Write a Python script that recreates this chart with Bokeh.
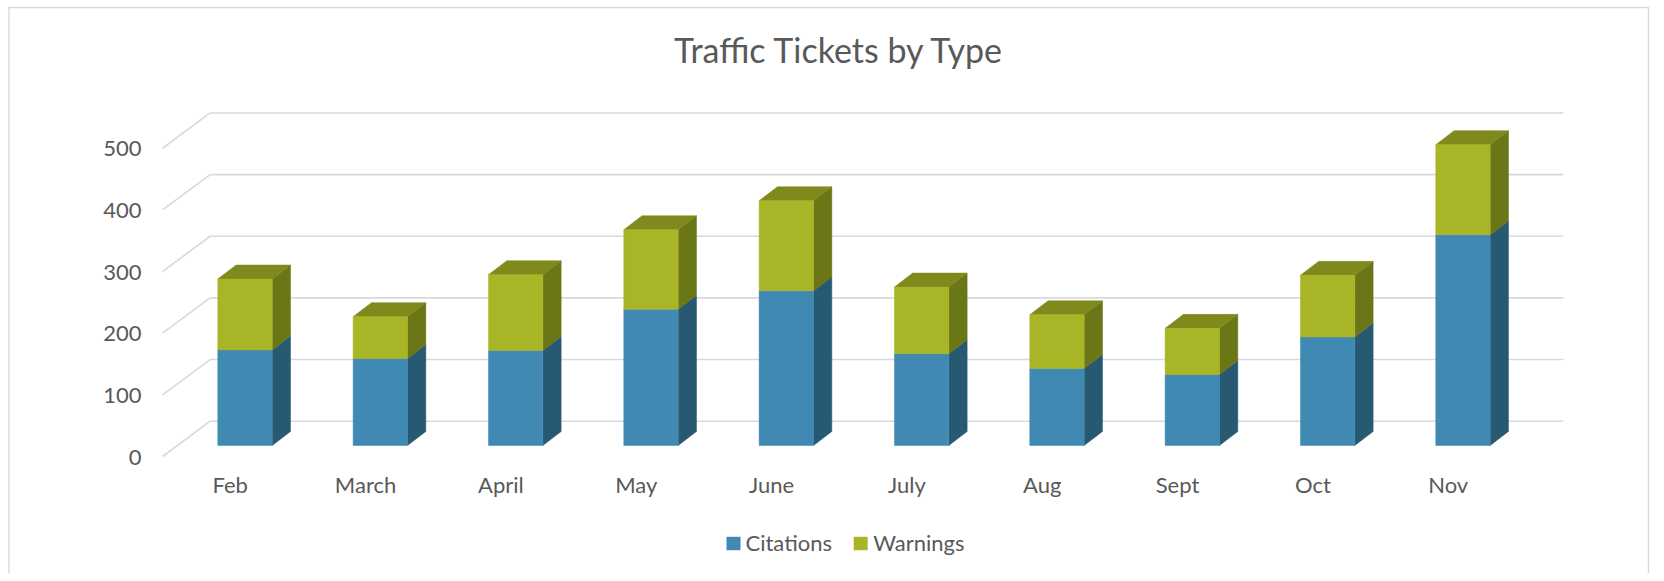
from bokeh.plotting import figure
from bokeh.models import Range1d
from bokeh.core.properties import value
from bokeh.embed import file_html
from bokeh.resources import INLINE

# ---------------- data ----------------
months = ["Feb", "March", "April", "May", "June", "July", "Aug", "Sept", "Oct", "Nov"]
citations = [155, 141, 154, 221, 251, 149, 125, 115, 176, 342]
warnings = [115, 68, 123, 129, 146, 108, 87, 75, 100, 146]
y_ticks = [0, 100, 200, 300, 400, 500]
series_names = ["Citations", "Warnings"]
title_text = "Traffic Tickets by Type"

# ---------------- layout / style ----------------
W, H = 1656, 573
PX_Y = 0.6165        # pixels per ticket
PX_X = 135.33        # pixels per category
BASE_CY = 445.0      # canvas y of value 0 (bar front plane)
CAT0_CX = 244.5      # canvas x of first category centre

def xd(cx):
    return (cx - CAT0_CX) / PX_X

def yd(cy):
    return (BASE_CY - cy) / PX_Y

TEXT = "#595959"
GRID = "#D9D9D9"
FONT = value("Lato")
colors = {
    "Citations": dict(front="#4089B2", side="#285973", top="#33739A"),
    "Warnings": dict(front="#A8B526", side="#6B7617", top="#7F891C"),
}

bar_w = 54.4 / PX_X
ddx, ddy = 18.3 / PX_X, 14.0 / PX_Y          # bar depth
fdx, fdy = -14.8 / PX_X, -11.0 / PX_Y        # floor front edge vs bar plane
bdx, bdy = 32.8 / PX_X, 24.3 / PX_Y          # back wall vs bar plane

p = figure(width=W, height=H,
           x_range=Range1d(xd(0), xd(W)), y_range=Range1d(yd(H), yd(0)),
           output_backend="svg", toolbar_location=None,
           x_axis_location=None, y_axis_location=None, min_border=0)
p.grid.visible = False
p.outline_line_color = None
p.background_fill_color = "white"
p.border_fill_color = "white"

n = len(months)
xs_idx = list(range(n))

# ---------------- gridlines (3D walls) ----------------
gx, gy = [], []
for v in y_ticks:
    gx.append([-0.5 + fdx, -0.5 + bdx, n - 0.5 + bdx])
    gy.append([v + fdy, v + bdy, v + bdy])
p.multi_line(gx, gy, line_color=GRID, line_width=1.6)

# tick labels
p.text(x=[-0.5 + fdx - 21 / PX_X] * len(y_ticks),
       y=[v + fdy - 0.5 / PX_Y for v in y_ticks],
       text=[str(v) for v in y_ticks], text_font=FONT, text_font_size="22px",
       text_color=TEXT, text_align="right", text_baseline="middle")

# ---------------- 3D stacked bars ----------------
bottoms = [0] * n
segments = []
for name, vals in zip(series_names, [citations, warnings]):
    tops = [b + v for b, v in zip(bottoms, vals)]
    segments.append((name, list(bottoms), tops))
    bottoms = tops

for k, (name, bots, tops) in enumerate(segments):
    c = colors[name]
    side_x, side_y = [], []
    for i in xs_idx:
        r = i + bar_w / 2
        side_x.append([r, r + ddx, r + ddx, r])
        side_y.append([bots[i], bots[i] + ddy, tops[i] + ddy, tops[i]])
    p.patches(side_x, side_y, fill_color=c["side"], line_color=c["side"], line_width=0.5)
    if k == len(segments) - 1:
        top_x, top_y = [], []
        for i in xs_idx:
            l, r = i - bar_w / 2, i + bar_w / 2
            top_x.append([l, l + ddx, r + ddx, r])
            top_y.append([tops[i], tops[i] + ddy, tops[i] + ddy, tops[i]])
        p.patches(top_x, top_y, fill_color=c["top"], line_color=c["top"], line_width=0.5)
    p.vbar(x=xs_idx, width=bar_w, bottom=bots, top=tops,
           fill_color=c["front"], line_color=c["front"], line_width=0.5)

# category labels (on floor front edge)
p.text(x=[i + fdx for i in xs_idx], y=[yd(484)] * n, text=months,
       text_font=FONT, text_font_size="22px", text_color=TEXT,
       text_align="center", text_baseline="middle")

# ---------------- title ----------------
p.text(x=[xd(839)], y=[yd(49)], text=[title_text], text_font=FONT,
       text_font_size="34px", text_color=TEXT, text_align="center",
       text_baseline="middle")

# ---------------- legend ----------------
leg_sq_cx = [733.0, 860.2]
leg_txt_cx = [745.0, 872.7]
p.rect(x=[xd(c) for c in leg_sq_cx], y=[yd(543)] * 2, width=14, height=13.4,
       width_units="screen", height_units="screen",
       fill_color=[colors[s]["front"] for s in series_names], line_color=None)
p.text(x=[xd(c) for c in leg_txt_cx], y=[yd(542)] * 2, text=series_names,
       text_font=FONT, text_font_size="22px", text_color=TEXT,
       text_align="left", text_baseline="middle")

# ---------------- chart border (open at bottom, as in reference) ----------------
p.line([xd(8.5), xd(8.5), xd(1648), xd(1648)],
       [yd(H + 10), yd(7), yd(7), yd(H + 10)],
       line_color=GRID, line_width=1.4)

open("out.html", "w").write(file_html(p, INLINE))
